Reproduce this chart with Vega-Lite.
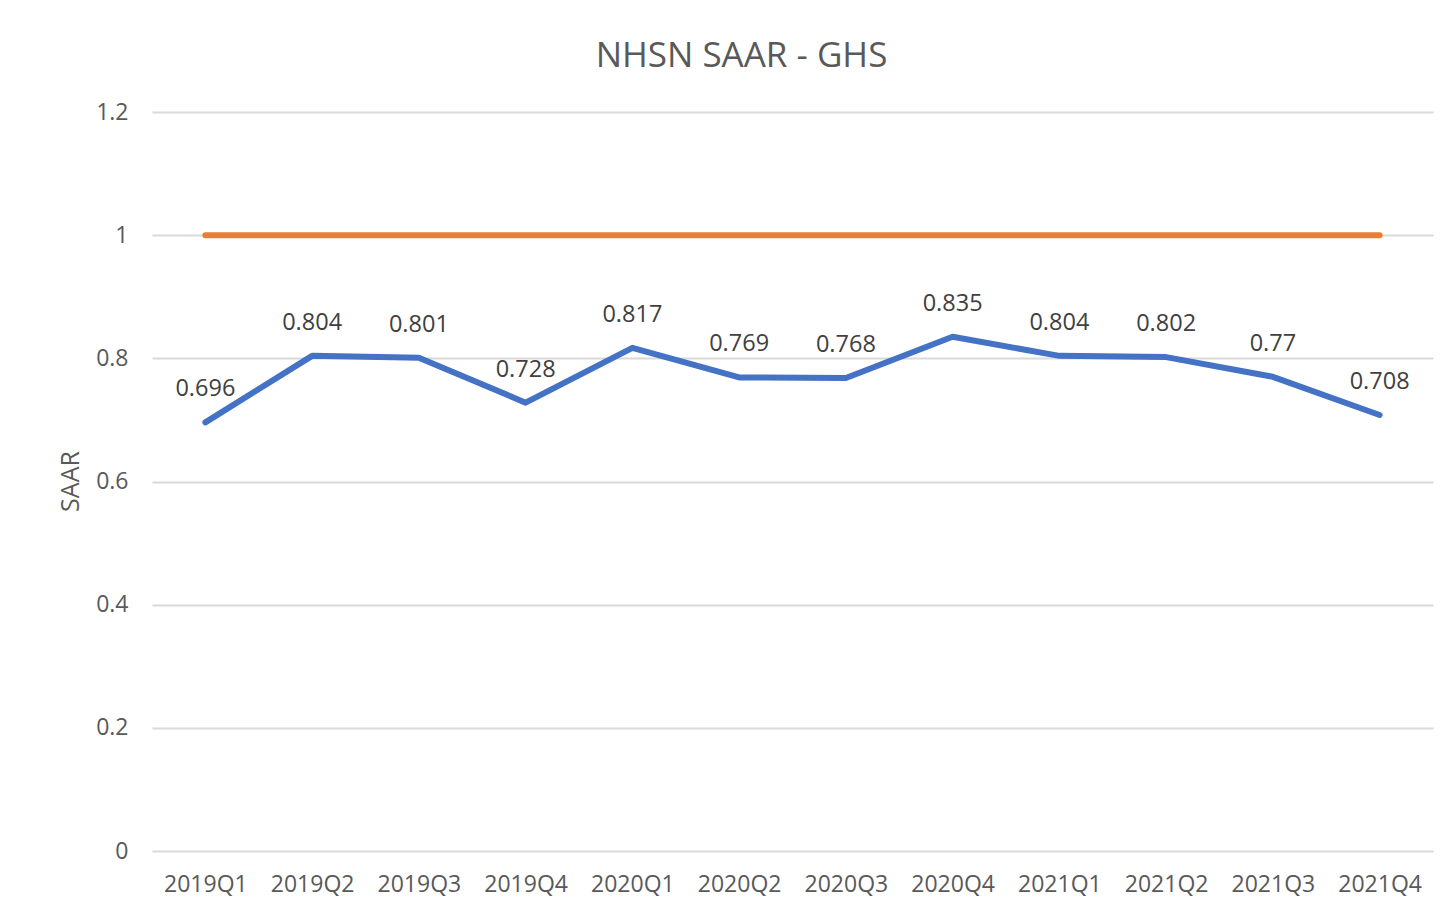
{
  "$schema": "https://vega.github.io/schema/vega-lite/v6.json",
  "autosize": {"type": "none"},
  "padding": {"left": 152, "top": 112, "right": 16, "bottom": 62},
  "width": 1281,
  "height": 739,
  "background": "white",
  "config": {"view": {"stroke": null}},
  "title": {
    "text": "NHSN SAAR - GHS",
    "font": "Open Sans",
    "fontSize": 35,
    "fontWeight": "normal",
    "color": "#595959",
    "anchor": "middle",
    "frame": "group",
    "baseline": "alphabetic",
    "offset": -1,
    "dx": -51
  },
  "data": {
    "values": [
      {"quarter": "2019Q1", "saar": 0.696, "target": 1},
      {"quarter": "2019Q2", "saar": 0.804, "target": 1},
      {"quarter": "2019Q3", "saar": 0.801, "target": 1},
      {"quarter": "2019Q4", "saar": 0.728, "target": 1},
      {"quarter": "2020Q1", "saar": 0.817, "target": 1},
      {"quarter": "2020Q2", "saar": 0.769, "target": 1},
      {"quarter": "2020Q3", "saar": 0.768, "target": 1},
      {"quarter": "2020Q4", "saar": 0.835, "target": 1},
      {"quarter": "2021Q1", "saar": 0.804, "target": 1},
      {"quarter": "2021Q2", "saar": 0.802, "target": 1},
      {"quarter": "2021Q3", "saar": 0.77, "target": 1},
      {"quarter": "2021Q4", "saar": 0.708, "target": 1}
    ]
  },
  "encoding": {
    "x": {
      "field": "quarter",
      "type": "ordinal",
      "sort": null,
      "scale": {"type": "point", "padding": 0.5},
      "axis": {
        "title": null,
        "labelAngle": 0,
        "ticks": false,
        "domain": false,
        "grid": false,
        "labelPadding": 22,
        "labelFont": "Open Sans",
        "labelFontSize": 23,
        "labelColor": "#595959"
      }
    }
  },
  "layer": [
    {
      "mark": {"type": "line", "color": "#ED7D31", "strokeWidth": 6, "strokeCap": "round"},
      "encoding": {
        "y": {
          "field": "target",
          "type": "quantitative",
          "scale": {"domain": [0, 1.2], "nice": false},
          "axis": {
            "title": "SAAR",
            "titleFont": "Open Sans",
            "titleFontSize": 25,
            "titleFontWeight": "normal",
            "titleColor": "#595959",
            "titleX": -82,
            "titleY": 369,
            "titleAngle": -90,
            "titleBaseline": "middle",
            "titleAlign": "center",
            "values": [0, 0.2, 0.4, 0.6, 0.8, 1, 1.2],
            "format": ".1~f",
            "ticks": false,
            "domain": false,
            "labelPadding": 24,
            "labelFont": "Open Sans",
            "labelFontSize": 23,
            "labelColor": "#595959",
            "gridColor": "#d9d9d9",
            "gridWidth": 2
          }
        }
      }
    },
    {
      "mark": {"type": "line", "color": "#4472C4", "strokeWidth": 6, "strokeCap": "round", "strokeJoin": "round"},
      "encoding": {
        "y": {"field": "saar", "type": "quantitative"}
      }
    },
    {
      "mark": {"type": "text", "dy": -33, "baseline": "middle", "font": "Open Sans", "fontSize": 23.5, "color": "#404040"},
      "encoding": {
        "y": {"field": "saar", "type": "quantitative"},
        "text": {"field": "saar", "type": "quantitative"}
      }
    }
  ]
}
